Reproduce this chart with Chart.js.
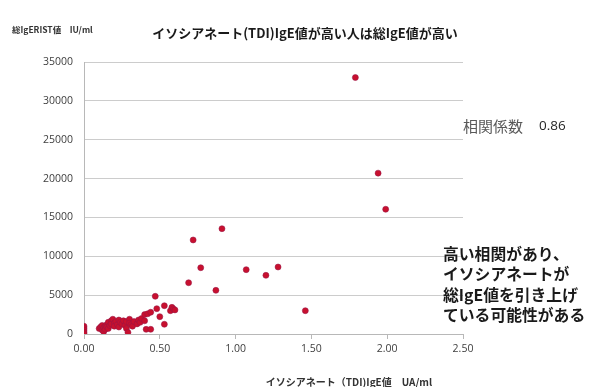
<!DOCTYPE html>
<html>
<head>
<meta charset="utf-8">
<script src="https://cdn.jsdelivr.net/npm/chart.js@4/dist/chart.umd.min.js"></script>
<style>
  html, body { margin: 0; padding: 0; background: #ffffff; }
  #wrap { position: relative; width: 593px; height: 387px; }
</style>
</head>
<body>
<div id="wrap"><canvas id="c" width="593" height="387"></canvas></div>
<script>
// イソシアネート(TDI) IgE (UA/ml) と 総IgE (IU/ml) の散布図データ
const tdiIgE = [
  0.00, 0.00, 0.00, 0.00, 0.00,
  0.10, 0.11, 0.12, 0.12, 0.13, 0.13, 0.14, 0.14, 0.15, 0.15,
  0.16, 0.16, 0.17, 0.18, 0.18, 0.19, 0.20, 0.20, 0.21, 0.22,
  0.23, 0.23, 0.24, 0.25, 0.26, 0.27, 0.28, 0.28, 0.29, 0.30,
  0.30, 0.31, 0.32, 0.33, 0.35, 0.36, 0.37, 0.38, 0.40, 0.40,
  0.42, 0.41, 0.44, 0.44, 0.47, 0.48, 0.50, 0.53, 0.53, 0.57,
  0.58, 0.59, 0.60,
  0.69, 0.72, 0.77, 0.87, 0.91, 1.07, 1.20, 1.28, 1.46,
  1.79, 1.94, 1.99
];
const totalIgE = [
  1000, 750, 500, 250, 50,
  700, 900, 500, 1100, 800, 300, 1000, 600, 1200, 900,
  1500, 700, 1100, 1700, 1300, 1900, 1400, 1000, 1600, 1200,
  1800, 900, 1500, 1300, 1700, 1100, 1600, 700, 200, 1900,
  1400, 1200, 1000, 1600, 1300, 1800, 1500, 2000, 2500, 1700,
  2600, 600, 600, 2800, 4850, 3260, 2230, 3640, 1250, 3000,
  3430, 3220, 3100,
  6600, 12100, 8530, 5620, 13550, 8280, 7550, 8620, 3000,
  33000, 20700, 16050
];
const xTicks = [0, 0.5, 1.0, 1.5, 2.0, 2.5];
const yTicks = [0, 5000, 10000, 15000, 20000, 25000, 30000, 35000];

const chartTitle = 'イソシアネート(TDI)IgE値が高い人は総IgE値が高い';
const yAxisTitle = '総IgERIST値　IU/ml';
const xAxisTitle = 'イソシアネート（TDI)IgE値　UA/ml';
const corrLabel = '相関係数';
const corrValue = '0.86';
const noteLines = ['高い相関があり、', 'イソシアネートが', '総IgE値を引き上げ', 'ている可能性がある'];

const points = tdiIgE.map((x, i) => ({ x: x, y: totalIgE[i] }));

const JP = '"Noto Sans CJK JP", "Noto Sans", sans-serif';
const NUM = '"Open Sans", "Noto Sans", sans-serif';

// 図中テキスト(タイトル・軸タイトル・相関係数・コメント)
const textPlugin = {
  id: 'textPlugin',
  afterDraw(chart) {
    const ctx = chart.ctx;
    ctx.save();
    ctx.textBaseline = 'middle';

    ctx.fillStyle = '#1a1a1a';
    ctx.font = 'bold 13px ' + JP;
    ctx.textAlign = 'center';
    ctx.fillText(chartTitle, 305, 33);

    ctx.font = 'bold 8.5px ' + JP;
    ctx.textAlign = 'left';
    ctx.fillStyle = '#333333';
    ctx.fillText(yAxisTitle, 12, 30);

    ctx.font = 'bold 10px ' + JP;
    ctx.textAlign = 'center';
    ctx.fillText(xAxisTitle, 349, 382);

    ctx.textAlign = 'left';
    ctx.font = '15px ' + JP;
    ctx.fillStyle = '#595959';
    ctx.fillText(corrLabel, 463, 126);
    ctx.font = '13.5px ' + NUM;
    ctx.fillStyle = '#262626';
    ctx.fillText(corrValue, 539, 126);

    ctx.font = 'bold 15.8px ' + JP;
    ctx.fillStyle = '#1a1a1a';
    noteLines.forEach((t, i) => ctx.fillText(t, 443, 254 + i * 20.3));
    ctx.restore();
  }
};

new Chart(document.getElementById('c'), {
  type: 'scatter',
  data: {
    datasets: [{
      data: points,
      backgroundColor: '#c8102e',
      borderColor: 'rgba(150,20,70,0.9)',
      borderWidth: 0.6,
      pointRadius: 3,
      pointHoverRadius: 3
    }]
  },
  plugins: [textPlugin],
  options: {
    responsive: false,
    animation: false,
    events: [],
    layout: { padding: { left: 0, right: 130, top: 62, bottom: 23 } },
    plugins: { legend: { display: false }, tooltip: { enabled: false }, title: { display: false } },
    scales: {
      x: {
        type: 'linear',
        min: 0,
        max: 2.5,
        afterBuildTicks(scale) { scale.ticks = xTicks.map(v => ({ value: v })); },
        afterFit(scale) { scale.height = 30; },
        border: { display: true, color: '#b8b8b8', width: 1 },
        grid: { display: true, drawOnChartArea: false, drawTicks: true, tickLength: 5, color: '#b8b8b8' },
        ticks: {
          padding: 4,
          color: '#404040',
          font: { family: NUM, size: 10.5 },
          callback: v => Number(v).toFixed(2)
        }
      },
      y: {
        type: 'linear',
        min: 0,
        max: 35000,
        afterBuildTicks(scale) { scale.ticks = yTicks.map(v => ({ value: v })); },
        afterFit(scale) { scale.width = 84; },
        border: { display: true, color: '#b8b8b8', width: 1 },
        grid: { color: '#cccccc', lineWidth: 1, drawTicks: false },
        ticks: {
          padding: 11,
          color: '#404040',
          font: { family: NUM, size: 10.5 },
          callback: v => String(v)
        }
      }
    }
  }
});
</script>
</body>
</html>
